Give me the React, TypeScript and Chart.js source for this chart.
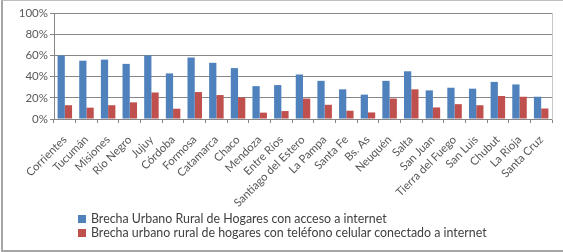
import React, { useEffect, useRef } from "react";
import { Chart, registerables } from "chart.js";

Chart.register(...registerables);

const provincias = [
  "Corrientes", "Tucumán", "Misiones", "Río Negro", "Jujuy", "Córdoba", "Formosa",
  "Catamarca", "Chaco", "Mendoza", "Entre Ríos", "Santiago del Estero", "La Pampa",
  "Santa Fe", "Bs. As", "Neuquén", "Salta", "San Juan", "Tierra del Fuego", "San Luis",
  "Chubut", "La Rioja", "Santa Cruz",
];

const brechaInternet = [
  60, 55, 56, 52, 60, 43, 58, 53, 48, 31, 32, 42, 36, 28, 23, 36, 45, 27, 29.5, 28.6, 35, 32.6, 21,
];

const brechaCelular = [
  13, 10.7, 13, 15.7, 25, 9.7, 25.4, 22.6, 20.4, 6, 7.5, 19.3, 13.4, 7.8, 6.2, 19.3, 28, 10.9, 14, 13, 21.7, 21, 9.9,
];

const serieInternet = "Brecha Urbano Rural de Hogares con acceso a internet";
const serieCelular = "Brecha urbano rural de hogares con teléfono celular conectado a internet";

const yTicks = [0, 20, 40, 60, 80, 100];

const BLUE = "#4F81BD";
const RED = "#C0504D";
const FONT = "Lato, 'DejaVu Sans', sans-serif";

export default function App() {
  const ref = useRef<HTMLCanvasElement | null>(null);

  useEffect(() => {
    document.body.style.margin = "0";
    const canvas = ref.current;
    if (!canvas) return;
    const chart = new Chart(canvas, {
      type: "bar",
      data: {
        labels: provincias,
        datasets: [
          { label: serieInternet, data: brechaInternet, backgroundColor: BLUE, categoryPercentage: 0.67, barPercentage: 1 },
          { label: serieCelular, data: brechaCelular, backgroundColor: RED, categoryPercentage: 0.67, barPercentage: 1 },
        ],
      },
      options: {
        animation: false,
        responsive: false,
        maintainAspectRatio: false,
        layout: { padding: { top: 13, right: 11, left: 0, bottom: 0 } },
        plugins: { legend: { display: false }, tooltip: { enabled: false } },
        scales: {
          x: {
            offset: true,
            grid: { drawOnChartArea: false, drawTicks: true, tickLength: 4, color: "#868686" },
            border: { color: "#868686", width: 1 },
            ticks: {
              minRotation: 45,
              maxRotation: 45,
              autoSkip: false,
              padding: 10,
              color: "#595959",
              font: { family: FONT, size: 11.3 },
            },
            afterFit: (s: any) => { s.height = 133; },
          },
          y: {
            min: 0,
            max: 100,
            afterBuildTicks: (s: any) => { s.ticks = yTicks.map((v) => ({ value: v })); },
            grid: { color: "#868686", lineWidth: 1, tickLength: 4 },
            border: { color: "#868686", width: 1 },
            ticks: {
              padding: 2,
              color: "#595959",
              font: { family: FONT, size: 11.5 },
              callback: (v: any) => `${v}%`,
            },
            afterFit: (s: any) => { s.width = 54; },
          },
          y2: {
            position: "right",
            min: 0,
            max: 100,
            grid: { display: false, drawTicks: false },
            border: { color: "#c8c8c8", width: 1 },
            ticks: { display: false },
            afterFit: (s: any) => { s.width = 0; },
          },
        },
      },
    });
    return () => chart.destroy();
  }, []);

  const legendText: React.CSSProperties = {
    position: "absolute",
    left: 91,
    fontFamily: FONT,
    fontSize: 12.4,
    color: "#404040",
    whiteSpace: "nowrap",
    lineHeight: "14px",
  };
  const sq = (color: string, top: number): React.CSSProperties => ({
    position: "absolute",
    left: 78,
    top,
    width: 8,
    height: 8,
    background: color,
  });

  return (
    <div style={{ position: "relative", width: 563, height: 252, overflow: "hidden", background: "#fff" }}>
      <canvas ref={ref} width={563} height={252} style={{ position: "absolute", left: 0, top: 0 }} />
      <div style={{ position: "absolute", left: 1, top: 0, width: 600, height: 252, borderLeft: "2px solid #a6a6a6", borderTop: "1px solid #bdbdbd", borderBottom: "2px solid #a6a6a6", boxSizing: "border-box", pointerEvents: "none" }} />
      <div style={sq(BLUE, 215)} />
      <div style={{ ...legendText, top: 212 }}>{serieInternet}</div>
      <div style={sq(RED, 229)} />
      <div style={{ ...legendText, top: 226 }}>{serieCelular}</div>
    </div>
  );
}
